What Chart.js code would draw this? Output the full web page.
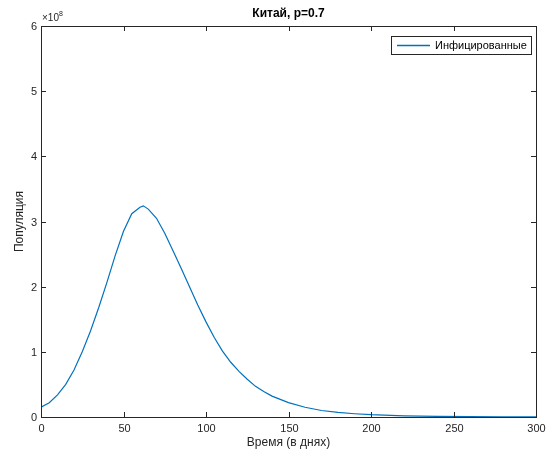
<!DOCTYPE html>
<html>
<head>
<meta charset="utf-8">
<script src="https://cdn.jsdelivr.net/npm/chart.js@4.4.0/dist/chart.umd.min.js"></script>
<style>
    html, body { margin: 0; padding: 0; background: #fff; }
    #wrap { width: 551px; height: 452px; }
</style>
</head>
<body>
<div id="wrap"><canvas id="chart" width="551" height="452"></canvas></div>
<script>
// days and infected population (in units of 1e8)
const days = [0, 5, 10, 15, 20, 25, 30, 35, 40, 45, 50, 55, 60, 62, 65, 70, 75, 80, 85, 90, 95,
    100, 105, 110, 115, 120, 125, 130, 135, 140, 145, 150, 160, 170, 180, 190, 200,
    220, 240, 260, 280, 300];
const infected = [0.15, 0.22, 0.34, 0.50, 0.72, 1.00, 1.32, 1.68, 2.07, 2.48, 2.85, 3.12, 3.22, 3.24, 3.19, 3.05, 2.82, 2.55, 2.28, 2.00, 1.72,
    1.46, 1.22, 1.01, 0.84, 0.70, 0.58, 0.47, 0.39, 0.32, 0.27, 0.22, 0.15, 0.10, 0.07, 0.05, 0.035,
    0.018, 0.009, 0.005, 0.002, 0.001];
const xTicks = [0, 50, 100, 150, 200, 250, 300];
const yTicks = [0, 1, 2, 3, 4, 5, 6];

const titleText = 'Китай, p=0.7';
const xLabel = 'Время (в днях)';
const yLabel = 'Популяция';
const legendText = 'Инфицированные';

const FONT = '"Liberation Sans", Arial, sans-serif';
const AXIS_COLOR = '#262626';
const LINE_COLOR = '#0072BD';

const matlabBox = {
    id: 'matlabBox',
    afterDraw(chart) {
        const ctx = chart.ctx;
        const a = chart.chartArea;
        const xs = chart.scales.x, ys = chart.scales.y;
        ctx.save();
        ctx.strokeStyle = AXIS_COLOR;
        ctx.lineWidth = 1;
        ctx.strokeRect(Math.round(a.left) + 0.5, Math.round(a.top) + 0.5,
            Math.round(a.right - a.left), Math.round(a.bottom - a.top));

        // inward ticks + tick labels
        const tl = 5;
        ctx.fillStyle = AXIS_COLOR;
        ctx.font = '11px ' + FONT;
        ctx.beginPath();
        ctx.textAlign = 'center';
        ctx.textBaseline = 'middle';
        xTicks.forEach(v => {
            const px = Math.round(xs.getPixelForValue(v)) + 0.5;
            ctx.moveTo(px, a.bottom); ctx.lineTo(px, a.bottom - tl);
            ctx.moveTo(px, a.top); ctx.lineTo(px, a.top + tl);
            ctx.fillText(String(v), px, a.bottom + 12);
        });
        ctx.textAlign = 'right';
        yTicks.forEach(v => {
            const py = Math.round(ys.getPixelForValue(v)) + 0.5;
            ctx.moveTo(a.left, py); ctx.lineTo(a.left + tl, py);
            ctx.moveTo(a.right, py); ctx.lineTo(a.right - tl, py);
            ctx.fillText(String(v), a.left - 4, py);
        });
        ctx.stroke();

        // title
        ctx.fillStyle = '#000';
        ctx.font = 'bold 12px ' + FONT;
        ctx.textAlign = 'center';
        ctx.fillText(titleText, (a.left + a.right) / 2, 14);

        // axis labels
        ctx.fillStyle = AXIS_COLOR;
        ctx.font = '12px ' + FONT;
        ctx.fillText(xLabel, (a.left + a.right) / 2, 443);
        ctx.save();
        ctx.translate(20, (a.top + a.bottom) / 2);
        ctx.rotate(-Math.PI / 2);
        ctx.fillText(yLabel, 0, 0);
        ctx.restore();

        // exponent
        ctx.textAlign = 'left';
        ctx.font = '10px ' + FONT;
        ctx.fillText('\u00d710', a.left + 1, 18);
        ctx.font = '7px ' + FONT;
        ctx.fillText('8', a.left + 18, 14);

        // legend
        const lx = 391, ly = 36, lw = 140, lh = 18;
        ctx.fillStyle = '#fff';
        ctx.fillRect(lx, ly, lw, lh);
        ctx.strokeStyle = AXIS_COLOR;
        ctx.lineWidth = 1;
        ctx.strokeRect(lx + 0.5, ly + 0.5, lw, lh);
        ctx.strokeStyle = LINE_COLOR;
        ctx.lineWidth = 1.3;
        ctx.beginPath();
        ctx.moveTo(lx + 6, ly + 9.5);
        ctx.lineTo(lx + 39, ly + 9.5);
        ctx.stroke();
        ctx.fillStyle = '#000';
        ctx.font = '11px ' + FONT;
        ctx.fillText(legendText, lx + 44, ly + 10);
        ctx.restore();
    }
};

new Chart(document.getElementById('chart').getContext('2d'), {
    type: 'line',
    data: {
        datasets: [{
            label: legendText,
            data: days.map((d, i) => ({ x: d, y: infected[i] })),
            borderColor: LINE_COLOR,
            borderWidth: 1.2,
            pointRadius: 0,
            tension: 0,
            fill: false
        }]
    },
    options: {
        responsive: false,
        animation: false,
        layout: { padding: { top: 26, right: 15, left: 0, bottom: 0 } },
        plugins: {
            legend: { display: false },
            title: { display: false },
            tooltip: { enabled: false }
        },
        scales: {
            x: {
                type: 'linear',
                min: 0,
                max: 300,
                afterFit: s => { s.height = 35; },
                grid: { display: false },
                border: { display: false },
                ticks: { display: false }
            },
            y: {
                min: 0,
                max: 6,
                afterFit: s => { s.width = 41; },
                grid: { display: false },
                border: { display: false },
                ticks: { display: false }
            }
        }
    },
    plugins: [matlabBox]
});
</script>
</body>
</html>
